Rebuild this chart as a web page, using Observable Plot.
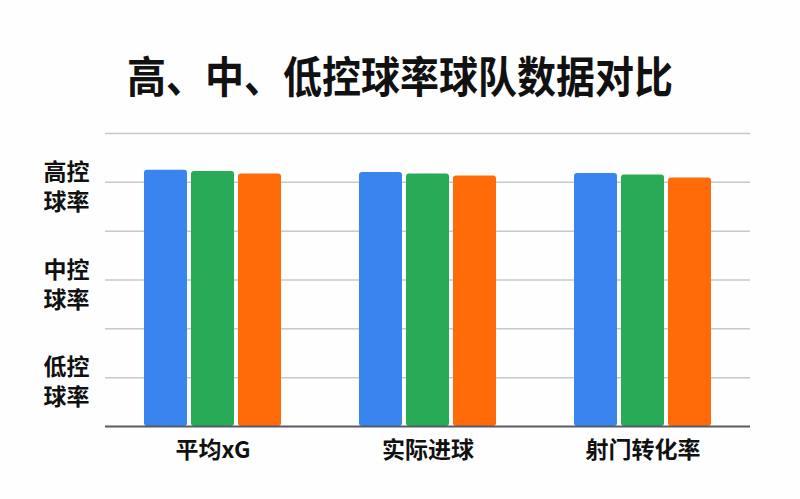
<!DOCTYPE html>
<html>
<head>
<meta charset="utf-8">
<script src="https://cdn.jsdelivr.net/npm/d3@7"></script>
<script src="https://cdn.jsdelivr.net/npm/@observablehq/plot@0.6"></script>
<style>
  html, body { margin: 0; padding: 0; background: #fefefe; }
  body { width: 800px; height: 499px; overflow: hidden; font-family: "Noto Sans CJK SC", "Noto Sans", sans-serif; }
  #title { height: 110px; position: relative; }
  #title span { position: absolute; left: 0; right: 0; top: 75px; text-align: center; font-size: 39px; font-weight: 700; color: #111; line-height: 1; transform: translateY(-50%) scaleY(1.12); }
</style>
</head>
<body>
<div id="title"><span>高、中、低控球率球队数据对比</span></div>
<div id="chart"></div>
<script>
const groups = ["平均xG", "实际进球", "射门转化率"];
const series = ["高控球率", "中控球率", "低控球率"];
const highValues = [5.25, 5.20, 5.18];
const midValues = [5.22, 5.17, 5.15];
const lowValues = [5.17, 5.13, 5.09];
const yTickValues = [5, 3, 1];
const yTickLabels = ["高控\n球率", "中控\n球率", "低控\n球率"];
const gridValues = [1, 2, 3, 4, 5, 6];
const colors = ["#3a84ef", "#27ab57", "#ff6b08"];

const seriesValues = [highValues, midValues, lowValues];
const data = [];
groups.forEach((g, gi) => {
  series.forEach((s, si) => {
    data.push({group: g, series: s, value: seriesValues[si][gi]});
  });
});

const chart = Plot.plot({
  width: 800,
  height: 389,
  marginTop: 23,
  marginBottom: 73,
  marginLeft: 105,
  marginRight: 50,
  style: {background: "transparent", fontFamily: "'Noto Sans CJK SC', sans-serif", color: "#111"},
  fx: {domain: groups, padding: 0},
  x: {domain: series, paddingInner: 0.09, paddingOuter: 0.8},
  y: {domain: [0, 6]},
  color: {domain: series, range: colors},
  marks: [
    Plot.ruleY(gridValues, {stroke: "#c6c8d0", strokeWidth: 1.5}),
    Plot.barY(data, {fx: "group", x: "series", y: "value", fill: "series", rx: 3}),
    Plot.ruleY([0], {stroke: "#555a66", strokeWidth: 1.8}),
    Plot.axisY({ticks: yTickValues, tickFormat: d => yTickLabels[yTickValues.indexOf(d)], tickSize: 0, tickPadding: 16, dy: 3, fontSize: 23, fontWeight: "bold", lineHeight: 1.3, label: null}),
    Plot.axisX({ticks: [], label: null}),
    Plot.axisFx({anchor: "bottom", tickSize: 0, tickPadding: 15, fontSize: 23, fontWeight: "bold", label: null})
  ]
});
document.getElementById("chart").appendChild(chart);
</script>
</body>
</html>
